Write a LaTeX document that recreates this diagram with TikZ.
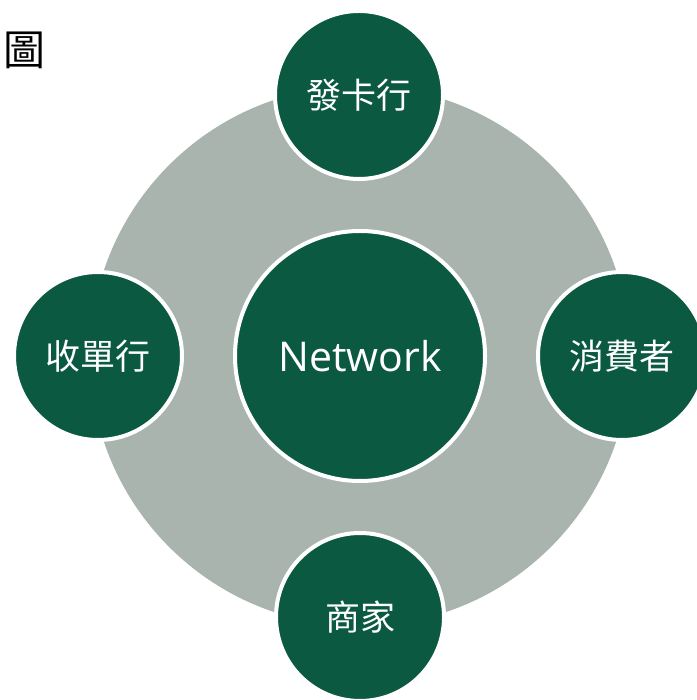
\documentclass[tikz,border=0pt]{standalone}
\usepackage{fontspec}
\setmainfont{Open Sans}
\newfontfamily\cjk{Noto Sans CJK TC}
\definecolor{netgreen}{HTML}{0B5940}
\definecolor{ringgray}{HTML}{A9B4AE}
\tikzset{
  party/.style={circle,fill=netgreen,draw=white,line width=4pt,
    minimum size=168pt,inner sep=0pt,text=white,
    font=\cjk\fontsize{35}{35}\selectfont},
  hub/.style={party,minimum size=250pt,font=\fontsize{41}{41}\selectfont}
}
\begin{document}
\begin{tikzpicture}[x=1pt,y=1pt]
  \useasboundingbox (0,0) rectangle (696,700);
  \def\cx{360} \def\cy{344}
  \fill[ringgray] (\cx,\cy) circle(270pt);
  \node[hub] (net) at (\cx,\cy) {Network};
  \node[party] (issuer) at (359,605) {發卡行};
  \node[party] (acquirer) at (98,\cy) {收單行};
  \node[party] (consumer) at (622,\cy) {消費者};
  \node[party] (merchant) at (\cx,83) {商家};
  \node[font=\cjk\fontsize{42}{42}\selectfont,inner sep=0pt] (fig) at (25,650) {圖};
\end{tikzpicture}
\end{document}
